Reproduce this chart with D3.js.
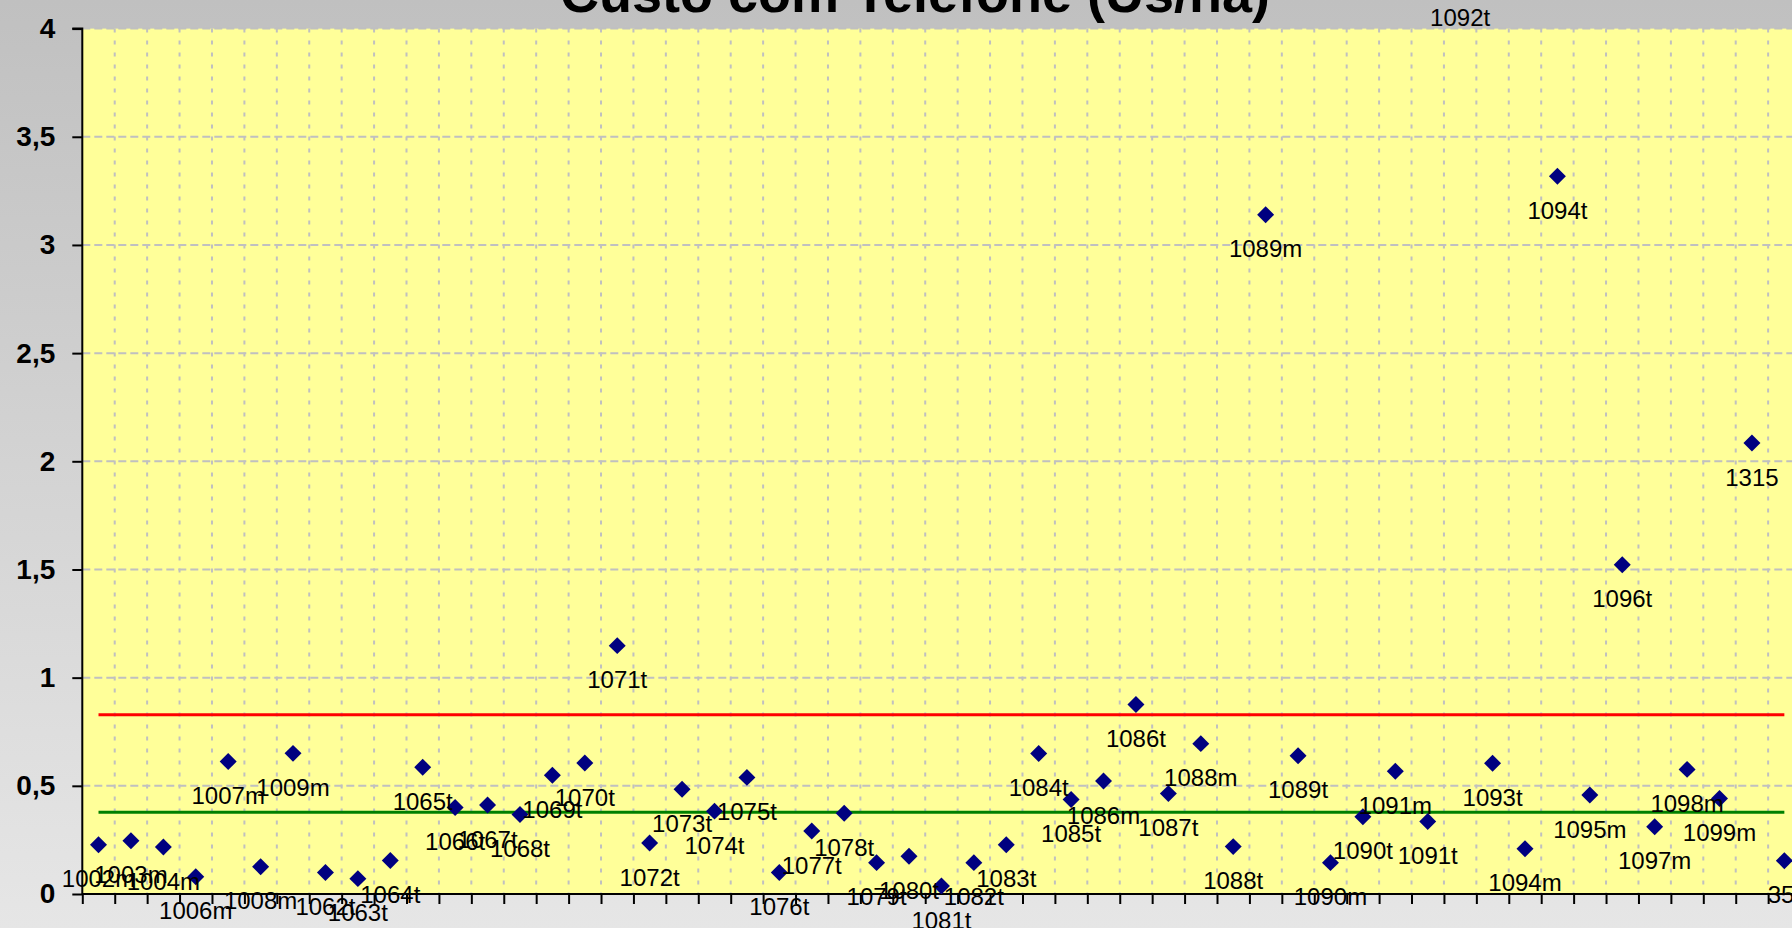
<!DOCTYPE html>
<html>
<head>
<meta charset="utf-8">
<script src="https://cdn.jsdelivr.net/npm/d3@7"></script>
<style>
  html, body { margin: 0; padding: 0; background: #d0d0d0; }
  svg { display: block; }
  text { font-family: "Liberation Sans", Arial, sans-serif; }
</style>
</head>
<body>
<svg id="chart" width="1792" height="928"></svg>
<script>
// ---- data ----
const categories = [
  "1002m","1003m","1004m","1006m","1007m","1008m","1009m","1062t","1063t","1064t",
  "1065t","1066t","1067t","1068t","1069t","1070t","1071t","1072t","1073t","1074t",
  "1075t","1076t","1077t","1078t","1079t","1080t","1081t","1082t","1083t","1084t",
  "1085t","1086m","1086t","1087t","1088m","1088t","1089m","1089t","1090m","1090t",
  "1091m","1091t","1092t","1093t","1094m","1094t","1095m","1096t","1097m","1098m",
  "1099m","1315","35t"
];
const values = [
  0.228,0.246,0.217,0.080,0.612,0.126,0.650,0.099,0.071,0.155,
  0.586,0.400,0.411,0.367,0.549,0.606,1.148,0.236,0.484,0.383,
  0.539,0.099,0.291,0.373,0.145,0.174,0.037,0.145,0.228,0.649,
  0.437,0.522,0.876,0.464,0.695,0.219,3.140,0.639,0.145,0.357,
  0.567,0.335,4.210,0.604,0.209,3.318,0.458,1.522,0.311,0.576,
  0.441,2.085,0.154
];
const redLineValue = 0.828;
const greenLineValue = 0.378;
const yTicks = [0,0.5,1,1.5,2,2.5,3,3.5,4];
const title = "Custo com Telefone (Us/ha)";

// ---- layout ----
const W = 1792, H = 928;
const plotLeft = 82.3, plotTop = 28.6, plotBottom = 894;
const bandW = 32.42;
const plotRight = plotLeft + categories.length * bandW;

const svg = d3.select("#chart");
const defs = svg.append("defs");
const grad = defs.append("linearGradient").attr("id","bg").attr("x1",0).attr("y1",0).attr("x2",0).attr("y2",1);
grad.append("stop").attr("offset","0%").attr("stop-color","#c0c0c0");
grad.append("stop").attr("offset","100%").attr("stop-color","#e6e6e6");
defs.append("clipPath").attr("id","plotclip").append("rect")
  .attr("x",plotLeft).attr("y",plotTop).attr("width",plotRight-plotLeft).attr("height",plotBottom-plotTop);

svg.append("rect").attr("width",W).attr("height",H).attr("fill","url(#bg)");

const x = d3.scaleBand().domain(categories).range([plotLeft, plotRight]).padding(0);
const xb = d3.scaleLinear().domain([0, categories.length]).range([plotLeft, plotRight]);
const y = d3.scaleLinear().domain([0,4]).range([plotBottom, plotTop]);

// plot area
svg.append("rect").attr("x",plotLeft).attr("y",plotTop)
  .attr("width",plotRight-plotLeft).attr("height",plotBottom-plotTop).attr("fill","#ffff99");

// gridlines
const grid = svg.append("g");
grid.selectAll("line.v").data(d3.range(1, categories.length+1)).join("line")
  .attr("class","v")
  .attr("x1",d=>xb(d)).attr("x2",d=>xb(d))
  .attr("y1",plotTop).attr("y2",plotBottom)
  .attr("stroke","#c0c0c0").attr("stroke-width",2).attr("stroke-dasharray","4,8");
grid.selectAll("line.h").data(yTicks.filter(d=>d>0)).join("line")
  .attr("class","h")
  .attr("x1",plotLeft).attr("x2",plotRight)
  .attr("y1",d=>y(d)).attr("y2",d=>y(d))
  .attr("stroke","#c0c0c0").attr("stroke-width",2).attr("stroke-dasharray","8,4");

// reference lines
const first = categories[0], last = categories[categories.length-1];
const refLine = d3.line().x(d=>x(d[0])+x.bandwidth()/2).y(d=>y(d[1]));
svg.append("path").attr("d", refLine([[first,redLineValue],[last,redLineValue]]))
  .attr("stroke","#ff0000").attr("stroke-width",3).attr("fill","none");
svg.append("path").attr("d", refLine([[first,greenLineValue],[last,greenLineValue]]))
  .attr("stroke","#008000").attr("stroke-width",3).attr("fill","none");

// axes
const yAxis = d3.axisLeft(y).tickValues(yTicks).tickSize(10).tickPadding(17)
  .tickFormat(d => String(d).replace(".", ","));
const gy = svg.append("g").attr("transform",`translate(${plotLeft},0)`).call(yAxis);
gy.select(".domain").attr("stroke","#000").attr("stroke-width",2).attr("d",`M-10,${plotTop}H0V${plotBottom}`);
gy.selectAll(".tick line").attr("stroke","#000").attr("stroke-width",2);
gy.selectAll(".tick text").attr("font-size",28).attr("font-weight","bold")
  .attr("fill","#000").attr("font-family","Liberation Sans, Arial, sans-serif");

const xAxis = d3.axisBottom(xb).tickValues(d3.range(0, categories.length+1)).tickSize(10).tickFormat("");
const gx = svg.append("g").attr("transform",`translate(0,${plotBottom})`).call(xAxis);
gx.select(".domain").attr("stroke","#000").attr("stroke-width",2).attr("d",`M${plotLeft},0H${plotRight}`);
gx.selectAll(".tick line").attr("stroke","#000").attr("stroke-width",2);

// markers
const diamond = d3.symbol().type(d3.symbolSquare).size(144);
svg.append("g").attr("clip-path","url(#plotclip)")
  .selectAll("path").data(categories).join("path")
  .attr("d", diamond())
  .attr("transform",(d,i)=>`translate(${x(d)+x.bandwidth()/2},${y(values[i])}) rotate(45)`)
  .attr("fill","#000080");

// labels
svg.append("g").selectAll("text").data(categories).join("text")
  .attr("x",(d)=>x(d)+x.bandwidth()/2)
  .attr("y",(d,i)=>y(values[i])+34)
  .attr("dy","0.36em")
  .attr("text-anchor","middle")
  .attr("font-size",24)
  .attr("fill","#000")
  .text(d=>d);

// title
svg.append("text").attr("x",915).attr("y",12).attr("text-anchor","middle")
  .attr("font-size",54).attr("font-weight","bold").attr("fill","#000")
  .text(title);
</script>
</body>
</html>
